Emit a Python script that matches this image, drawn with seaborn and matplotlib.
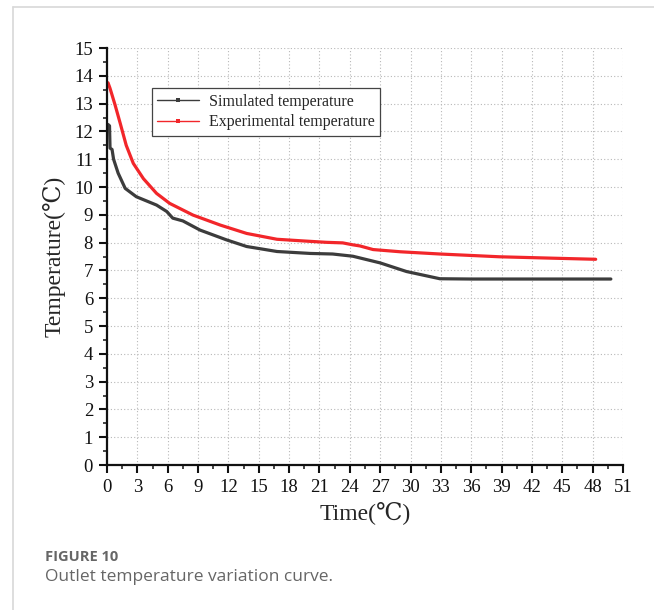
import numpy as np
import pandas as pd
import matplotlib
matplotlib.use('Agg')
import matplotlib.pyplot as plt
from matplotlib.lines import Line2D
from matplotlib.ticker import MultipleLocator
import seaborn as sns

# values
sim_time = [0.1, 0.25, 0.3, 0.5, 0.65, 1.1, 1.8, 2.9, 4.9, 5.9, 6.5, 7.5, 9.2, 11.8,
            13.8, 16.8, 20.1, 22.3, 24.3, 27.0, 29.6, 32.9, 36, 40, 44, 49.8]
sim_temp = [12.25, 12.2, 11.4, 11.35, 11.0, 10.5, 9.95, 9.65, 9.35, 9.12, 8.88, 8.78, 8.45, 8.1,
            7.86, 7.68, 7.61, 7.59, 7.51, 7.27, 6.96, 6.70, 6.69, 6.69, 6.69, 6.69]

exp_time = [0.1, 0.3, 0.8, 1.3, 1.9, 2.6, 3.6, 4.9, 6.2, 8.5, 11.2, 13.8, 16.8, 19.4,
            21.7, 23.3, 24.3, 25.0, 26.3, 29.0, 32.9, 38.8, 44, 48.3]
exp_temp = [13.75, 13.55, 12.95, 12.3, 11.5, 10.85, 10.3, 9.77, 9.41, 8.99, 8.63, 8.33, 8.12, 8.06,
            8.01, 7.99, 7.92, 7.88, 7.75, 7.67, 7.59, 7.49, 7.44, 7.40]

series = ['Simulated temperature', 'Experimental temperature']
colors = ['#3c3c3c', '#f2262a']

df = pd.concat([
    pd.DataFrame({'Time': sim_time, 'Temp': sim_temp, 'Series': series[0]}),
    pd.DataFrame({'Time': exp_time, 'Temp': exp_temp, 'Series': series[1]}),
])

sns.set_style('white')
plt.rcParams['font.family'] = ['Liberation Serif', 'DejaVu Serif']

fig = plt.figure(figsize=(6.54, 6.10), dpi=100)
ax = fig.add_axes([0.1636, 0.2377, 0.789, 0.6836])

sns.lineplot(data=df, x='Time', y='Temp', hue='Series', hue_order=series,
             palette=colors, linewidth=2.3, ax=ax, legend=False)

ax.set_xlim(0, 51)
ax.set_ylim(0, 15)
ax.xaxis.set_major_locator(MultipleLocator(3))
ax.xaxis.set_minor_locator(MultipleLocator(1.5))
ax.yaxis.set_major_locator(MultipleLocator(1))
ax.yaxis.set_minor_locator(MultipleLocator(0.5))
ax.tick_params(which='major', direction='out', length=6, width=1.5, labelsize=13.5,
               colors='#111111', pad=4, left=True, bottom=True)
ax.tick_params(which='minor', direction='out', length=3, width=1.2, left=True, bottom=True)

for s in ['top', 'right']:
    ax.spines[s].set_visible(False)
for s in ['left', 'bottom']:
    ax.spines[s].set_linewidth(1.6)
    ax.spines[s].set_color('#111111')

ax.grid(True, which='major', linestyle=(0, (1, 2)), color='#b8b8b8', linewidth=0.8)
# no grid lines at the axis ends
ax.get_xgridlines()[-1].set_visible(False)
ax.get_ygridlines()[-1].set_visible(False)

ax.set_xlabel('Time(℃)', fontsize=17, labelpad=4)
ax.set_ylabel('Temperature(℃)', fontsize=17, labelpad=6)

handles = [Line2D([], [], color=c, lw=1, marker='s', markersize=2.5, markeredgewidth=0) for c in colors]
leg = ax.legend(handles, series, loc='upper left', bbox_to_anchor=(0.087, 0.904),
                fontsize=11.5, frameon=True, fancybox=False, framealpha=1,
                edgecolor='#444444', handlelength=2.6, handletextpad=0.6,
                borderpad=0.35, labelspacing=0.3, borderaxespad=0)
leg.get_frame().set_linewidth(0.9)

# page frame and caption
fig.add_artist(Line2D([0.02, 0.02], [0.0, 0.988], color='#d8d8d8', lw=1.2))
fig.add_artist(Line2D([0.02, 1.0], [0.988, 0.988], color='#d8d8d8', lw=1.2))
fig.text(0.069, 0.08, 'FIGURE 10', fontsize=10.5, fontweight='bold', color='#666666',
         family=['Open Sans', 'DejaVu Sans'])
fig.text(0.069, 0.047, 'Outlet temperature variation curve.', fontsize=12.5, color='#666666',
         family=['Open Sans', 'DejaVu Sans'])

fig.savefig('out.png', dpi=100)
